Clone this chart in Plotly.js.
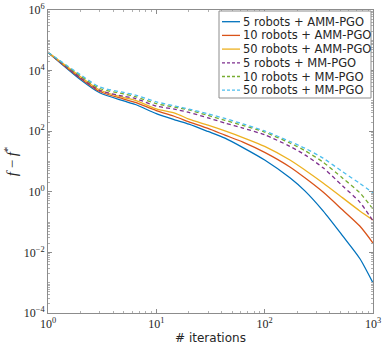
<!DOCTYPE html>
<html>
<head>
<meta charset="utf-8">
<script src="https://cdn.plot.ly/plotly-3.0.1.min.js"></script>
<style>html,body{margin:0;padding:0;background:#fff;}#chart{width:383px;height:347px;}</style>
</head>
<body>
<div id="chart"></div>
<script>
// ---- data ----
const iterations = [1, 2, 3, 5, 6.4, 10, 15, 20, 30, 43, 63, 100, 171, 235, 346, 525, 755, 1000];
const seriesNames = [
  '5 robots + AMM-PGO', '10 robots + AMM-PGO', '50 robots + AMM-PGO',
  '5 robots + MM-PGO', '10 robots + MM-PGO', '50 robots + MM-PGO'
];
const amm5  = [4.0e4, 5.0e3, 1.86e3, 1.0e3, 7.6e2, 3.8e2, 2.34e2, 1.7e2, 98, 59, 28.8, 11.2, 2.9, 1.07, 0.234, 0.035, 0.0063, 0.00098];
const amm10 = [4.0e4, 5.5e3, 2.04e3, 1.15e3, 8.9e2, 4.8e2, 3.0e2, 2.04e2, 123, 74, 43.7, 20, 6.6, 2.9, 0.98, 0.25, 0.074, 0.0204];
const amm50 = [4.0e4, 6.3e3, 2.29e3, 1.29e3, 1.05e3, 5.5e2, 3.89e2, 2.51e2, 158, 102, 61.7, 31.6, 11.2, 5.25, 1.95, 0.63, 0.234, 0.117];
const mm5   = [4.0e4, 5.75e3, 2.24e3, 1.41e3, 1.2e3, 6.76e2, 5.25e2, 4.17e2, 275, 186, 126, 75.9, 31.6, 16.6, 6.2, 1.55, 0.457, 0.11];
const mm10  = [4.0e4, 6.6e3, 2.57e3, 1.7e3, 1.38e3, 8.13e2, 6.17e2, 5.01e2, 331, 229, 155, 93.3, 40.7, 22.9, 9.55, 2.82, 0.93, 0.27];
const mm50  = [4.0e4, 7.24e3, 2.88e3, 1.9e3, 1.55e3, 9.33e2, 6.76e2, 5.37e2, 372, 263, 174, 102, 45.7, 27.5, 12.9, 4.57, 1.9, 0.93];
const xTickVals = [1, 10, 100, 1000];
const xTickText = ['10<sup>0</sup>', '10<sup>1</sup>', '10<sup>2</sup>', '10<sup>3</sup>'];
const yTickVals = [1e-4, 1e-2, 1, 1e2, 1e4, 1e6];
const yTickText = ['10<sup>\u22124</sup>', '10<sup>\u22122</sup>', '10<sup>0</sup>', '10<sup>2</sup>', '10<sup>4</sup>', '10<sup>6</sup>'];

// ---- styles ----
const allSeries = [amm5, amm10, amm50, mm5, mm10, mm50];
const colors = ['#0072BD', '#D95319', '#EDB120', '#7E2F8E', '#77AC30', '#4DBEEE'];
const dashes = ['solid', 'solid', 'solid', '4px,3px', '4px,3px', '4px,3px'];

const traces = allSeries.map((ys, i) => ({
  x: iterations, y: ys, type: 'scatter', mode: 'lines', name: seriesNames[i],
  line: {color: colors[i], width: 1.3, dash: dashes[i], shape: 'spline', smoothing: 0.7},
  showlegend: false, hoverinfo: 'skip'
}));

// manual legend (MATLAB style) in paper coordinates
const W = 325, H = 303, L = 48, T = 10;
const px2x = p => (p - L) / W;
const py2y = p => (T + H - p) / H;
const shapes = [{
  type: 'rect', xref: 'paper', yref: 'paper', layer: 'above',
  x0: px2x(219), x1: px2x(371), y0: py2y(98), y1: py2y(11),
  line: {color: '#8c8c8c', width: 1}, fillcolor: '#ffffff'
}];
const annotations = [];
seriesNames.forEach((name, i) => {
  const yy = py2y(21.7 + 13.7 * i);
  shapes.push({
    type: 'line', xref: 'paper', yref: 'paper', layer: 'above',
    x0: px2x(222), x1: px2x(240), y0: yy, y1: yy,
    line: {color: colors[i], width: 1.3, dash: dashes[i] === 'solid' ? 'solid' : '3px,2px'}
  });
  annotations.push({
    xref: 'paper', yref: 'paper', x: px2x(240.5), y: yy, xanchor: 'left', yanchor: 'middle',
    text: name, showarrow: false, font: {family: 'DejaVu Sans', size: 11.5, color: '#262626'}
  });
});

const axisCommon = {
  type: 'log', showgrid: false, zeroline: false, showline: true,
  linecolor: '#8c8c8c', linewidth: 1, mirror: 'allticks',
  ticks: 'inside', ticklen: 4, tickcolor: '#8c8c8c', tickwidth: 1,
  tickfont: {family: 'Liberation Serif', size: 12, color: '#262626'},
  minor: {ticks: 'inside', ticklen: 2, tickcolor: '#b0b0b0', dtick: 'D1'}
};

const layout = {
  width: 383, height: 347,
  margin: {l: 48, r: 10, t: 10, b: 34},
  paper_bgcolor: '#ffffff', plot_bgcolor: '#ffffff',
  xaxis: Object.assign({}, axisCommon, {
    range: [0, 3], tickmode: 'array', tickvals: xTickVals, ticktext: xTickText,
    title: {text: '# iterations', font: {family: 'DejaVu Sans', size: 12, color: '#262626'}, standoff: 3}
  }),
  yaxis: Object.assign({}, axisCommon, {
    range: [-4, 6], tickmode: 'array', tickvals: yTickVals, ticktext: yTickText,
    title: {text: '<i>f</i> \u2212 <i>f</i><sup>*</sup>', font: {family: 'Liberation Serif', size: 15, color: '#262626'}, standoff: 2}
  }),
  shapes: shapes,
  annotations: annotations,
  showlegend: false
};

Plotly.newPlot('chart', traces, layout, {staticPlot: true, displayModeBar: false});
</script>
</body>
</html>
